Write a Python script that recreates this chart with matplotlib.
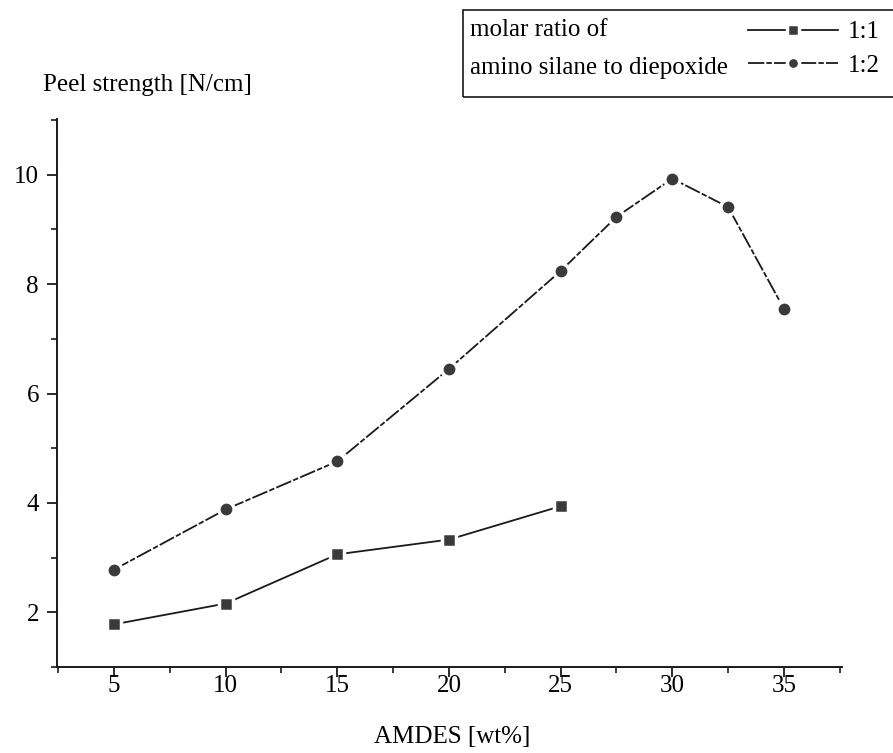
import matplotlib
matplotlib.use('Agg')
import matplotlib.pyplot as plt
from matplotlib.patches import Rectangle
from matplotlib.ticker import MultipleLocator

# values
amdes_11 = [5, 10, 15, 20, 25]
peel_11 = [1.78, 2.16, 3.06, 3.33, 3.94]

amdes_12 = [5, 10, 15, 20, 25, 27.5, 30, 32.5, 35]
peel_12 = [2.78, 3.88, 4.76, 6.45, 8.24, 9.23, 9.93, 9.41, 7.55]

x_ticks = [5, 10, 15, 20, 25, 30, 35]
y_ticks = [2, 4, 6, 8, 10]
ratio_labels = ['1:1', '1:2']

W, H = 893, 753


def fx(px):
    return px / W


def fy(py):
    return 1 - py / H


plt.rcParams['font.family'] = ['Liberation Serif', 'DejaVu Serif']
plt.rcParams['font.size'] = 18

fig = plt.figure(figsize=(W / 100, H / 100), dpi=100)
ax = fig.add_axes([fx(57), fy(667), (842 - 57) / W, (667 - 119) / H])

ink = '#1a1a1a'
face = '#3a3a3a'

l1, = ax.plot(amdes_11, peel_11, color=ink, lw=1.3, marker='s', ms=10,
              mfc=face, mec='white', mew=2.5, zorder=3)
l2, = ax.plot(amdes_12, peel_12, color=ink, lw=1.3, ls=(0, (9, 1.2, 3, 1.2)),
              marker='o', ms=11, mfc=face, mec='white', mew=2.5, zorder=3)

ax.set_xlim(2.45, 37.6)
ax.set_ylim(1, 11.02)
ax.set_xticks(x_ticks)
ax.set_yticks(y_ticks)
ax.xaxis.set_minor_locator(MultipleLocator(2.5))
ax.yaxis.set_minor_locator(MultipleLocator(1))

for side in ['top', 'right']:
    ax.spines[side].set_visible(False)
for side in ['left', 'bottom']:
    ax.spines[side].set_linewidth(1.4)
    ax.spines[side].set_color(ink)

ax.tick_params(axis='both', which='major', direction='out', length=7, width=1.3, color=ink)
ax.tick_params(axis='both', which='minor', direction='out', length=4, width=1.2, color=ink)
ax.tick_params(axis='x', which='major', pad=-1)
ax.tick_params(axis='y', which='major', pad=6)

ax.set_xlabel('AMDES [wt%]')
ax.xaxis.set_label_coords((452 - 57) / (842 - 57), -(726 - 667) / (667 - 119))
ax.set_ylabel('Peel strength [N/cm]', rotation=0, ha='left', va='center')
ax.yaxis.set_label_coords((43 - 57) / (842 - 57), (667 - 85) / (667 - 119))

# legend box with the descriptive text on the left
box = Rectangle((fx(463), fy(97)), fx(900) - fx(463), fy(10) - fy(97),
                transform=fig.transFigure, fill=False, lw=1.2, ec=ink, clip_on=False)
fig.patches.append(box)
fig.text(fx(470), fy(30), 'molar ratio of', va='center', ha='left')
fig.text(fx(470), fy(68), 'amino silane to diepoxide', va='center', ha='left')

fig.legend([l1, l2], ratio_labels, loc='center left', bbox_to_anchor=(fx(748), fy(49)),
           frameon=False, handlelength=3.6, handletextpad=0.4, labelspacing=0.45,
           borderpad=0, borderaxespad=0, markerscale=0.8)

fig.savefig('out.png', dpi=100)
